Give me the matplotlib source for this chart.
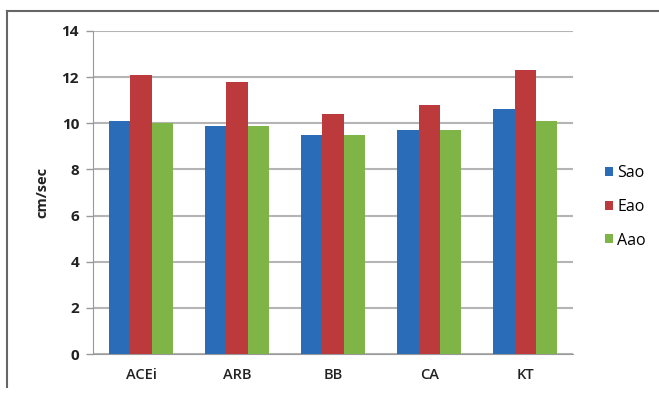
import matplotlib.pyplot as plt
import numpy as np
from matplotlib.lines import Line2D

# Flow velocities by drug class
groups = ['ACEi', 'ARB', 'BB', 'CA', 'KT']
sao = [10.1, 9.9, 9.5, 9.7, 10.6]
eao = [12.1, 11.8, 10.4, 10.8, 12.3]
aao = [10.0, 9.9, 9.5, 9.7, 10.1]
series_names = ['Sao', 'Eao', 'Aao']
colors = ['#2b6cb8', '#bc3a3c', '#7fb547']

plt.rcParams['font.family'] = ['Open Sans', 'DejaVu Sans']

fig = plt.figure(figsize=(6.59, 3.96), dpi=100)
ax = fig.add_axes([0.141, 0.106, 0.729, 0.816])

x = np.arange(len(groups))
w = 0.222
for i, (vals, name) in enumerate(zip([sao, eao, aao], series_names)):
    ax.bar(x + (i - 1) * w, vals, w, color=colors[i], label=name, zorder=3)

ax.set_xlim(-0.5, len(groups) - 0.5)
ax.set_ylim(0, 14)
ax.set_yticks(range(0, 15, 2))
ax.set_xticks(x)
ax.set_xticklabels(groups, fontsize=10.5, fontweight='semibold', color='#222222')
ax.tick_params(axis='y', labelsize=11, length=5, width=1, color='#999999',
               labelcolor='#222222', pad=5)
for lbl in ax.get_yticklabels():
    lbl.set_fontweight('bold')
ax.tick_params(axis='x', length=0, pad=10)
ax.grid(axis='y', color='#b4b4b4', linewidth=1.5, zorder=0)
for s in ['top', 'right']:
    ax.spines[s].set_visible(False)
ax.spines['left'].set_color('#999999')
ax.spines['bottom'].set_color('#999999')
ax.set_ylabel('cm/sec', fontsize=10.5, fontweight='bold', color='#222222', labelpad=9)

ax.legend(loc='center left', bbox_to_anchor=(1.035, 0.455), frameon=False,
          handlelength=0.5, handleheight=0.5, handletextpad=0.3,
          labelspacing=1.1, fontsize=11.5)

# outer chart frame
fig.add_artist(Line2D([0.011, 0.011], [0.023, 0.972], color='#666666', lw=1.5))
fig.add_artist(Line2D([0.011, 1.0], [0.972, 0.972], color='#666666', lw=1.5))

fig.savefig('out.png', dpi=100)
